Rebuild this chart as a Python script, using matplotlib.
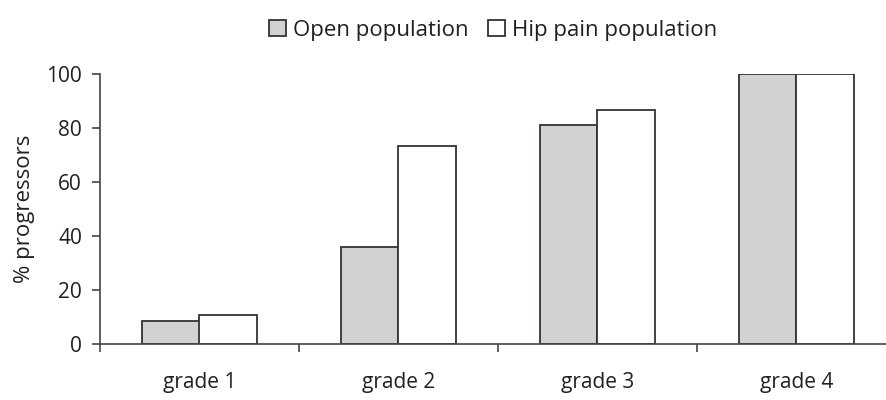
import numpy as np
import matplotlib.pyplot as plt
from matplotlib.ticker import FixedLocator

plt.rcParams['font.family'] = ['Open Sans', 'DejaVu Sans']

grades = ["grade 1", "grade 2", "grade 3", "grade 4"]
open_pop = [8.4, 36, 81.2, 100]
hip_pain = [10.8, 73.4, 86.7, 100]

fig = plt.figure(figsize=(8.87, 4.0), dpi=100)
ax = fig.add_axes([100 / 887, 56 / 400, 796 / 887, 270 / 400])

x = np.arange(len(grades))
w = 0.287
ax.bar(x - w / 2, open_pop, w, color="#d1d2d4", edgecolor="#333333", linewidth=1.3,
       label="Open population")
ax.bar(x + w / 2, hip_pain, w, color="white", edgecolor="#333333", linewidth=1.3,
       label="Hip pain population")

ax.set_xlim(-0.5, 3.5)
ax.set_ylim(0, 100)
ax.set_yticks([0, 20, 40, 60, 80, 100])
ax.set_xticks(x)
ax.set_xticklabels(grades)
ax.xaxis.set_minor_locator(FixedLocator([-0.5, 0.5, 1.5, 2.5]))

for s in ["top", "right"]:
    ax.spines[s].set_visible(False)
for s in ["left", "bottom"]:
    ax.spines[s].set_color("#444444")
    ax.spines[s].set_linewidth(1.2)

ax.tick_params(axis="x", which="major", length=0, pad=20, labelsize=15, colors="#231f20")
ax.tick_params(axis="x", which="minor", length=6, width=1.2, color="#444444")
ax.tick_params(axis="y", length=6, width=1.2, color="#444444", pad=7, labelsize=15,
               labelcolor="#231f20")
ax.set_ylabel("% progressors", fontsize=16, color="#231f20", labelpad=8)

fig.legend(loc="upper center", bbox_to_anchor=(0.556, 1.0), ncol=2, frameon=False,
           fontsize=16, handlelength=0.75, handleheight=0.75, handletextpad=0.3,
           columnspacing=0.9, labelcolor="#231f20")

fig.savefig("out.png", dpi=100)
